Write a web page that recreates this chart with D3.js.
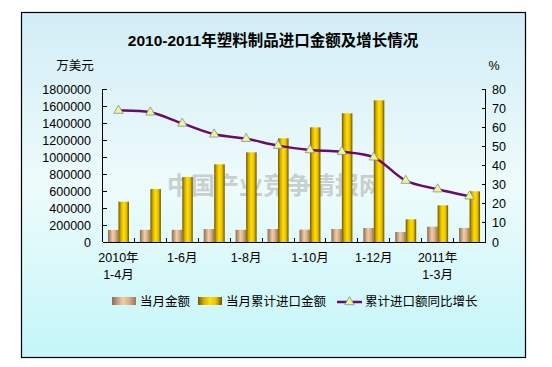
<!DOCTYPE html>
<html><head><meta charset="utf-8">
<script src="https://cdn.jsdelivr.net/npm/d3@7"></script>
<style>body{margin:0;background:#fff}svg{display:block}</style>
</head><body>
<script>
const categories = ["2010-1-4","2010-1-5","2010-1-6","2010-1-7","2010-1-8","2010-1-9","2010-1-10","2010-1-11","2010-1-12","2011-1-1","2011-1-2","2011-1-3"];
const tickLabels = [["2010年","1-4月"],null,["1-6月"],null,["1-8月"],null,["1-10月"],null,["1-12月"],null,["2011年","1-3月"],null];
const monthly = [142000,143000,143000,152000,143000,153000,145000,153000,165000,118000,180000,166000];
const cumulative = [474000,623000,765000,914000,1055000,1220000,1349000,1514000,1667000,267000,431000,596000];
const growth = [68.7,67.8,62.0,56.3,54.0,50.4,48.1,47.2,44.3,32.1,27.6,23.9];
const leftTicks = [0,200000,400000,600000,800000,1000000,1200000,1400000,1600000,1800000];
const rightTicks = [0,10,20,30,40,50,60,70,80];
const seriesNames = ["当月金额","当月累计进口金额","累计进口额同比增长"];

const W=552,H=367;
const font = "'Liberation Sans', Arial, 'Noto Sans CJK SC', sans-serif";
const svg = d3.select("body").append("svg").attr("width",W).attr("height",H);
const defs = svg.append("defs");
const bg = defs.append("linearGradient").attr("id","bg").attr("x1",0).attr("y1",0).attr("x2",0).attr("y2",1);
[[0,"#d2edf6"],[0.5,"#eefbfb"],[1,"#c4f6f9"]].forEach(s=>bg.append("stop").attr("offset",s[0]).attr("stop-color",s[1]));
const gGold = defs.append("linearGradient").attr("id","gold");
[[0,"#6e5800"],[0.25,"#d8b000"],[0.5,"#ffe000"],[0.75,"#e8c000"],[1,"#6a5200"]].forEach(s=>gGold.append("stop").attr("offset",s[0]).attr("stop-color",s[1]));
const gTan = defs.append("linearGradient").attr("id","tan");
[[0,"#8c6c50"],[0.45,"#f2cda6"],[0.7,"#dcb08a"],[1,"#9a7658"]].forEach(s=>gTan.append("stop").attr("offset",s[0]).attr("stop-color",s[1]));

svg.append("rect").attr("x",21.5).attr("y",12.5).attr("width",504).attr("height",345)
  .attr("fill","url(#bg)").attr("stroke","#000").attr("stroke-width",1.2);

svg.append("text").attr("x",273).attr("y",46).attr("text-anchor","middle")
  .attr("font-family",font).attr("font-weight","bold").attr("font-size",15.5).attr("fill","#000")
  .text("2010-2011年塑料制品进口金额及增长情况");

const L=102.5,R=485.5,T=89,B=242;
const x = d3.scaleBand().domain(categories).range([L,R]).padding(0);
const yL = d3.scaleLinear().domain([0,1800000]).range([B,T]);
const yR = d3.scaleLinear().domain([0,80]).range([B,T]);

// watermark
svg.append("text").attr("x",275).attr("y",194).attr("text-anchor","middle")
  .attr("font-family","'Noto Sans CJK SC', sans-serif").attr("font-weight","bold").attr("font-size",24)
  .attr("letter-spacing",0).attr("fill","#9a9a9a").attr("opacity",0.45).text("中国产业竞争情报网");

const bw=10.5;
svg.append("g").selectAll("rect").data(categories).join("rect")
  .attr("x",d=>x(d)+x.bandwidth()/2-bw).attr("width",bw)
  .attr("y",(d,i)=>yL(monthly[i])).attr("height",(d,i)=>B-yL(monthly[i])).attr("fill","url(#tan)");
svg.append("g").selectAll("rect").data(categories).join("rect")
  .attr("x",d=>x(d)+x.bandwidth()/2).attr("width",bw)
  .attr("y",(d,i)=>yL(cumulative[i])).attr("height",(d,i)=>B-yL(cumulative[i])).attr("fill","url(#gold)");

// axes
const axG = svg.append("g").attr("stroke","#000").attr("stroke-width",1).attr("shape-rendering","crispEdges");
axG.append("line").attr("x1",L).attr("x2",L).attr("y1",T).attr("y2",B);
axG.append("line").attr("x1",R).attr("x2",R).attr("y1",T).attr("y2",B);
axG.append("line").attr("x1",L).attr("x2",R).attr("y1",B).attr("y2",B);
leftTicks.forEach(v=>axG.append("line").attr("x1",L).attr("x2",L+4).attr("y1",yL(v)).attr("y2",yL(v)));
rightTicks.forEach(v=>axG.append("line").attr("x1",R-4).attr("x2",R).attr("y1",yR(v)).attr("y2",yR(v)));
categories.forEach(c=>axG.append("line").attr("x1",x(c)+x.bandwidth()).attr("x2",x(c)+x.bandwidth()).attr("y1",B-4).attr("y2",B));

const txt = svg.append("g").attr("font-family",font).attr("font-size",12.5).attr("fill","#000");
leftTicks.forEach(v=>txt.append("text").attr("x",91).attr("y",yL(v)+4.5).attr("text-anchor","end").text(v));
rightTicks.forEach(v=>txt.append("text").attr("x",492).attr("y",yR(v)+4.5).attr("text-anchor","start").text(v));
txt.append("text").attr("x",75).attr("y",70).attr("text-anchor","middle").text("万美元");
txt.append("text").attr("x",494).attr("y",70).attr("text-anchor","middle").text("%");
categories.forEach((c,i)=>{
  const lab=tickLabels[i]; if(!lab) return;
  lab.forEach((s,j)=>txt.append("text").attr("x",x(c)+x.bandwidth()/2).attr("y",262+j*17).attr("text-anchor","middle").text(s));
});

// line
const line = d3.line().x((d,i)=>x(categories[i])+x.bandwidth()/2).y(d=>yR(d)).curve(d3.curveCatmullRom.alpha(0.5));
svg.append("path").datum(growth).attr("d",line).attr("fill","none").attr("stroke","#6b0a6b").attr("stroke-width",2.5);
const tri = d3.symbol().type(d3.symbolTriangle).size(38);
svg.append("g").selectAll("path").data(growth).join("path")
  .attr("d",tri).attr("transform",(d,i)=>`translate(${x(categories[i])+x.bandwidth()/2},${yR(d)})`)
  .attr("fill","#f4f48a").attr("stroke","#7890a8").attr("stroke-width",0.8);

// legend
const lg = svg.append("g");
const ly=301;
lg.append("rect").attr("x",112).attr("y",ly-4).attr("width",24).attr("height",8).attr("fill","url(#tan)");
lg.append("rect").attr("x",198).attr("y",ly-4).attr("width",24).attr("height",8).attr("fill","url(#gold)");
lg.append("line").attr("x1",337).attr("x2",362).attr("y1",ly+1).attr("y2",ly+1).attr("stroke","#6b0a6b").attr("stroke-width",2.5);
lg.append("path").attr("d",tri).attr("transform",`translate(349.5,${ly+1})`).attr("fill","#f4f48a").attr("stroke","#7890a8").attr("stroke-width",0.8);
[[140,seriesNames[0]],[226,seriesNames[1]],[365,seriesNames[2]]].forEach(d=>
  lg.append("text").attr("x",d[0]).attr("y",ly+5).attr("font-family",font).attr("font-size",12.5).text(d[1]));
</script>
</body></html>
